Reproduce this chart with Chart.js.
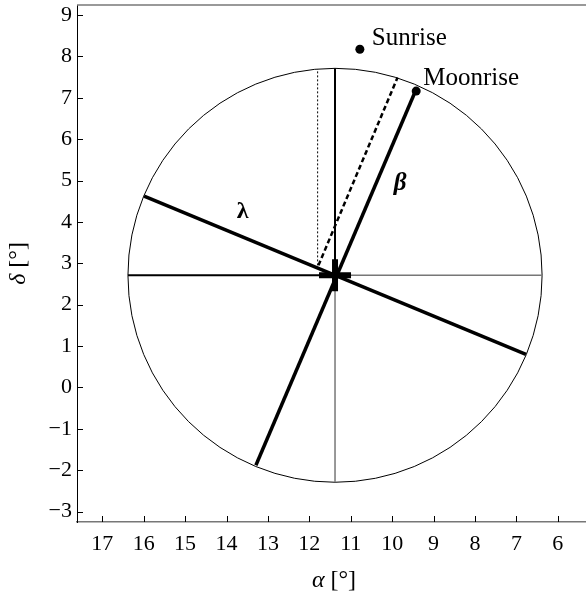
<!DOCTYPE html>
<html><head><meta charset="utf-8">
<script src="https://cdn.jsdelivr.net/npm/chart.js@4/dist/chart.umd.min.js"></script>
<style>html,body{margin:0;padding:0;background:#fff}</style>
</head><body>
<canvas id="c" width="586" height="596"></canvas>
<script>
// ---- data ----
const xTicks = [6,7,8,9,10,11,12,13,14,15,16,17];
const yTicks = [-3,-2,-1,0,1,2,3,4,5,6,7,8,9];
const xRange = [5.32, 17.61];
const yRange = [-3.25, 9.24];
const circleCenter = [11.38, 2.71];
const circleRadius = [5.0];
const westX = [16.38, 11.38],  westY = [2.71, 2.71];
const eastX = [11.38, 6.38],   eastY = [2.71, 2.71];
const northX = [11.38, 11.38], northY = [2.71, 7.71];
const southX = [11.38, 11.38], southY = [2.71, -2.29];
const lambdaX = [15.99, 6.77], lambdaY = [4.62, 0.80];
const betaX = [13.29, 9.43],   betaY = [-1.88, 7.18];
const dashedX = [11.78, 9.87], dashedY = [2.95, 7.49];
const dottedX = [11.80, 11.80], dottedY = [2.95, 7.69];
const eventNames = ['Sunrise', 'Moonrise'];
const eventX = [10.78, 9.42];
const eventY = [8.17, 7.16];
const greekLabels = ['λ', 'β'];
const greekX = [13.61, 9.81];
const greekY = [4.24, 4.93];

// ---- helpers ----
const pts = (xs, ys) => xs.map((x, i) => ({x, y: ys[i]}));
const SERIF = "'Liberation Serif', 'Times New Roman', serif";
function lineDS(xs, ys, color, width, dash) {
  return {type:'scatter', showLine:true, data:pts(xs, ys), borderColor:color, backgroundColor:color,
          borderWidth:width, borderDash:dash||[], pointRadius:0, fill:false};
}

const circlePlugin = {
  id:'circle',
  beforeDatasetsDraw(chart) {
    const {ctx, scales:{x, y}} = chart;
    const cx = x.getPixelForValue(circleCenter[0]);
    const cy = y.getPixelForValue(circleCenter[1]);
    const rx = Math.abs(x.getPixelForValue(circleCenter[0] + circleRadius[0]) - cx);
    const ry = Math.abs(y.getPixelForValue(circleCenter[1] + circleRadius[0]) - cy);
    ctx.save();
    ctx.strokeStyle = '#000'; ctx.lineWidth = 1;
    ctx.beginPath(); ctx.ellipse(cx, cy, rx, ry, 0, 0, Math.PI * 2); ctx.stroke();
    ctx.restore();
  }
};

const labelPlugin = {
  id:'labels',
  afterDatasetsDraw(chart) {
    const {ctx, scales:{x, y}, chartArea} = chart;
    ctx.save();
    // top frame line
    ctx.strokeStyle = '#777'; ctx.lineWidth = 1.5;
    ctx.beginPath(); ctx.moveTo(chartArea.left, chartArea.top); ctx.lineTo(chartArea.right, chartArea.top); ctx.stroke();
    // inward tick marks
    ctx.strokeStyle = '#000'; ctx.lineWidth = 1;
    x.ticks.forEach(t => { const px = Math.round(x.getPixelForValue(t.value)) + 0.5;
      ctx.beginPath(); ctx.moveTo(px, chartArea.bottom); ctx.lineTo(px, chartArea.bottom - 6); ctx.stroke(); });
    y.ticks.forEach(t => { const py = Math.round(y.getPixelForValue(t.value)) + 0.5;
      ctx.beginPath(); ctx.moveTo(chartArea.left, py); ctx.lineTo(chartArea.left + 6, py); ctx.stroke(); });
    // event labels
    ctx.fillStyle = '#000';
    ctx.font = '25px ' + SERIF;
    ctx.textAlign = 'left'; ctx.textBaseline = 'alphabetic';
    const offs = [[12, -4], [7, -6]];
    eventNames.forEach((n, i) => {
      ctx.fillText(n, x.getPixelForValue(eventX[i]) + offs[i][0], y.getPixelForValue(eventY[i]) + offs[i][1]);
    });
    // greek labels
    ctx.textAlign = 'center'; ctx.textBaseline = 'middle';
    const gf = ['bold 24px ' + SERIF, 'italic bold 25px ' + SERIF];
    greekLabels.forEach((g, i) => {
      ctx.font = gf[i];
      ctx.fillText(g, x.getPixelForValue(greekX[i]), y.getPixelForValue(greekY[i]));
    });
    // axis titles
    function mixed(cx, cy, parts) {
      let w = 0;
      parts.forEach(p => { ctx.font = p[1]; w += ctx.measureText(p[0]).width; });
      let xx = cx - w / 2;
      ctx.textAlign = 'left'; ctx.textBaseline = 'middle';
      parts.forEach(p => { ctx.font = p[1]; ctx.fillText(p[0], xx, cy); xx += ctx.measureText(p[0]).width; });
    }
    mixed(334, 581, [['α', 'italic 24px ' + SERIF], [' [°]', '24px ' + SERIF]]);
    ctx.save();
    ctx.translate(19, (chartArea.top + chartArea.bottom) / 2);
    ctx.rotate(-Math.PI / 2);
    mixed(0, 0, [['δ', 'italic 24px ' + SERIF], [' [°]', '24px ' + SERIF]]);
    ctx.restore();
    ctx.restore();
  }
};

new Chart(document.getElementById('c'), {
  type:'scatter',
  data:{datasets:[
    {type:'scatter', data:pts([circleCenter[0]], [circleCenter[1]]), pointStyle:'cross',
     pointRadius:16, pointBorderWidth:6, borderWidth:6, pointBorderColor:'#000', borderColor:'#000', backgroundColor:'#000'},
    {type:'scatter', data:pts(eventX, eventY), pointRadius:4.5, borderWidth:0, backgroundColor:'#000', borderColor:'#000'},
    lineDS(lambdaX, lambdaY, '#000', 3.5),
    lineDS(betaX, betaY, '#000', 3.5),
    lineDS(dashedX, dashedY, '#000', 2.5, [5, 3]),
    lineDS(dottedX, dottedY, '#000', 1, [2, 2]),
    lineDS(westX, westY, '#000', 2),
    lineDS(northX, northY, '#000', 2),
    lineDS(eastX, eastY, '#777', 1.5),
    lineDS(southX, southY, '#777', 1.5)
  ]},
  options:{
    responsive:false, animation:false, events:[],
    layout:{autoPadding:false, padding:{top:5, right:0, left:0, bottom:0}},
    plugins:{legend:{display:false}, tooltip:{enabled:false}},
    scales:{
      x:{type:'linear', reverse:true, min:xRange[0], max:xRange[1],
         afterBuildTicks:s => { s.ticks = xTicks.map(v => ({value:v})); },
         afterFit:s => { s.height = 74; s.paddingLeft = 0; s.paddingRight = 0; },
         grid:{display:false, drawTicks:false},
         border:{color:'#777', width:1.5},
         ticks:{font:{family:SERIF, size:22}, color:'#000', padding:9, maxRotation:0, autoSkip:false}},
      y:{type:'linear', min:yRange[0], max:yRange[1],
         afterBuildTicks:s => { s.ticks = yTicks.map(v => ({value:v})); },
         afterFit:s => { s.width = 77; s.paddingTop = 0; s.paddingBottom = 0; },
         grid:{display:false, drawTicks:false},
         border:{color:'#000', width:1},
         ticks:{font:{family:SERIF, size:22}, color:'#000', padding:5, autoSkip:false,
                callback:v => v < 0 ? '\u2212' + Math.abs(v) : String(v)}}
    }
  },
  plugins:[circlePlugin, labelPlugin]
});
</script>
</body></html>
